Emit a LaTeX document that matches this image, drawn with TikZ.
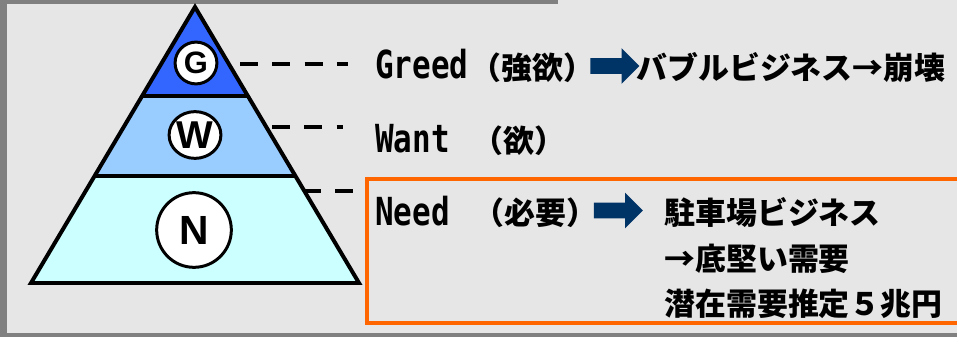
\documentclass[tikz,border=0pt]{standalone}
\usepackage{fontspec}
\usepackage{graphicx}
\setmainfont{Noto Sans CJK JP}
\newfontfamily\monofnt{DejaVu Sans Mono}
\newfontfamily\badgefnt{Liberation Sans}
\usetikzlibrary{calc, shapes.geometric, shapes.arrows, positioning}
\definecolor{bggray}{HTML}{E6E6E6}
\definecolor{framegray}{HTML}{808080}
\definecolor{gblue}{HTML}{3366FF}
\definecolor{wblue}{HTML}{99CCFF}
\definecolor{ncyan}{HTML}{CCFFFF}
\definecolor{navy}{HTML}{003366}
\definecolor{needorange}{HTML}{FF6600}
\newcommand{\latin}[1]{\scalebox{1}[1.25]{\monofnt\bfseries #1}}

\begin{document}
\begin{tikzpicture}[x=0.02cm, y=-0.02cm,
      edge/.style={draw=black, line width=2.27pt, line join=miter},
      badge/.style={draw=black, line width=1.7pt, fill=white, circle, inner sep=0pt, font=\badgefnt\bfseries},
      dashline/.style={draw=black, line width=2.27pt, dash pattern=on 10.2pt off 8.2pt},
      lbl/.style={anchor=base west, inner sep=0pt, font=\fontsize{17.6pt}{20pt}\selectfont\bfseries},
      blockarrow/.style={single arrow, fill=navy, draw=none, inner sep=4.25pt, minimum height=27.8pt,
        minimum width=19.8pt, single arrow head extend=5.67pt, single arrow head indent=0pt}]
      \useasboundingbox (0,0) rectangle (957,337);
      \clip (0,0) rectangle (957,337);
      \fill[bggray] (0,0) rectangle (957,337);
      \fill[framegray] (0,0) rectangle (558,4);
      \fill[framegray] (0,0) rectangle (7,337);
      \fill[framegray] (0,333) rectangle (957,337);

      % pyramid
      \coordinate (apex) at (195,7);
      \coordinate (bl) at (31,283);
      \coordinate (br) at (359,283);
      \coordinate (gl) at ($(apex)!0.322!(bl)$);
      \coordinate (gr) at ($(apex)!0.322!(br)$);
      \coordinate (wl) at ($(apex)!0.612!(bl)$);
      \coordinate (wr) at ($(apex)!0.612!(br)$);
      \fill[gblue] (apex) -- (gl) -- (gr) -- cycle;
      \fill[wblue] (gl) -- (wl) -- (wr) -- (gr) -- cycle;
      \fill[ncyan] (wl) -- (bl) -- (br) -- (wr) -- cycle;
      \draw[edge] (gl) -- (gr);
      \draw[edge] (wl) -- (wr);
      \draw[edge] (apex) -- (bl) -- (br) -- cycle;

      \draw node[badge, minimum size=23.8pt, font=\badgefnt\bfseries\fontsize{17.6pt}{18pt}\selectfont] (gc) at (196,63) {G};
      \draw node[badge, ellipse, minimum width=28.9pt, minimum height=26.6pt, font=\badgefnt\bfseries\fontsize{22.1pt}{22pt}\selectfont] (wc) at (195,135) {W};
      \draw node[badge, minimum size=42.5pt, font=\badgefnt\bfseries\fontsize{23.2pt}{24pt}\selectfont] (nc) at (194,230) {N};

      % labels
      \draw node[lbl] (greed) at (375,79) {\latin{Greed}};
      \draw node[lbl] (greedjp) at (470,80) {（強欲）};
      \draw node[blockarrow] (garrow) at (611,66) {};
      \draw node[lbl] (bubble) at (636,80) {バブルビジネス→崩壊};

      \draw node[lbl] (want) at (375,153) {\latin{Want}};
      \draw node[lbl] (wantjp) at (472,153) {（欲）};

      \draw node[lbl] (need) at (375,226) {\latin{Need}};
      \draw node[lbl] (needjp) at (473,225) {（必要）};
      \draw node[blockarrow] (narrow) at (614.5,210.5) {};
      \draw node[lbl] (parking) at (664,225) {駐車場ビジネス};
      \draw node[lbl] (steady) at (664,271) {→底堅い需要};
      \draw node[lbl] (market) at (664,316) {潜在需要推定５兆円};

      % frame round the need part
      \coordinate (boxtl) at (367,179);
      \draw[draw=needorange, line width=2.27pt] (980,179) -- (boxtl) |- (980,323);

      % dashed leaders
      \coordinate (gdash) at (240,64);
      \coordinate (wdash) at (272,127);
      \coordinate (ndash) at (303,191);
      \draw[dashline, shorten >=15.3pt] (gdash) -- (gdash -| greed.west);
      \draw[dashline, shorten >=18.1pt] (wdash) -- (wdash -| want.west);
      \draw[dashline, shorten >=7.4pt] (ndash) -- (ndash -| boxtl);
\end{tikzpicture}
\end{document}
